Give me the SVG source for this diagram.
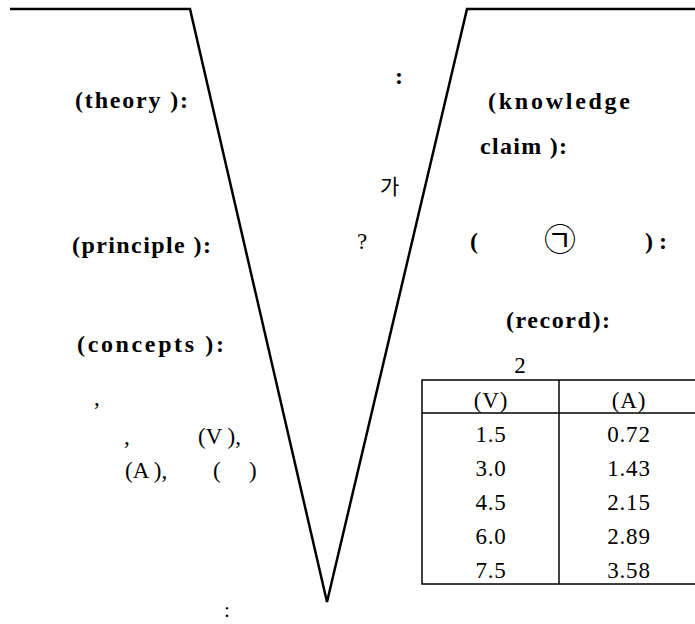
<svg xmlns="http://www.w3.org/2000/svg" width="695" height="624" viewBox="0 0 695 624">
<style>
.b{font-family:"Liberation Serif",serif;font-weight:bold;font-size:24px;fill:#000}
.r{font-family:"Liberation Serif",serif;font-size:23px;fill:#000}
.k{font-family:"Liberation Serif","Noto Sans CJK KR",sans-serif;font-size:21px;fill:#000}
.v{fill:none;stroke:#000;stroke-width:2.5}
.t{fill:none;stroke:#000;stroke-width:1.5}
</style>
<rect width="695" height="624" fill="#fff"/>
<g id="connectors">
<polyline class="v" points="10,9 190,9 327,602 467,9 695,9"/>
</g>
<g id="theory"><text class="b" x="75" y="108" textLength="113" lengthAdjust="spacing">(theory ):</text></g>
<g id="principle"><text class="b" x="72" y="253" textLength="139" lengthAdjust="spacing">(principle ):</text></g>
<g id="concepts"><text class="b" x="77" y="352" textLength="147" lengthAdjust="spacing">(concepts ):</text>
<text class="r" x="94" y="405">,</text>
<text class="r" x="124" y="444">,</text>
<text class="r" x="198" y="444">(V ),</text>
<text class="r" x="125" y="478">(A ),</text>
<text class="r" x="213" y="478">(</text>
<text class="r" x="249" y="478">)</text>
</g>
<g id="question"><text class="b" x="395" y="84">:</text>
<text class="k" x="380" y="194">가</text>
<text class="r" x="357" y="249">?</text>
</g>
<g id="bottom"><text class="r" x="224" y="617" style="font-size:21px">:</text></g>
<g id="claim"><text class="b" x="488" y="109" textLength="142" lengthAdjust="spacing">(knowledge</text>
<text class="b" x="480" y="154" textLength="87" lengthAdjust="spacing">claim ):</text></g>
<g id="transform"><text class="b" x="470" y="249">(</text>
<text x="544" y="251" style="font-family:'Noto Sans CJK KR',sans-serif;font-size:32px">㉠</text>
<text class="b" x="645" y="249" textLength="22" lengthAdjust="spacing">):</text></g>
<g id="record"><text class="b" x="506" y="328" textLength="104" lengthAdjust="spacing">(record):</text>
<text class="r" x="520" y="373" text-anchor="middle">2</text>
<rect class="t" x="422" y="380" width="280" height="204"/>
<line class="t" x1="422" y1="413" x2="695" y2="413"/>
<line class="t" x1="559" y1="380" x2="559" y2="584"/>
<g class="r" text-anchor="middle" letter-spacing="0.8">
<text x="491" y="408">(V)</text><text x="629" y="408">(A)</text>
<text x="491" y="442">1.5</text><text x="629" y="442">0.72</text>
<text x="491" y="476">3.0</text><text x="629" y="476">1.43</text>
<text x="491" y="510">4.5</text><text x="629" y="510">2.15</text>
<text x="491" y="544">6.0</text><text x="629" y="544">2.89</text>
<text x="491" y="578">7.5</text><text x="629" y="578">3.58</text>
</g>
</g>
</svg>
